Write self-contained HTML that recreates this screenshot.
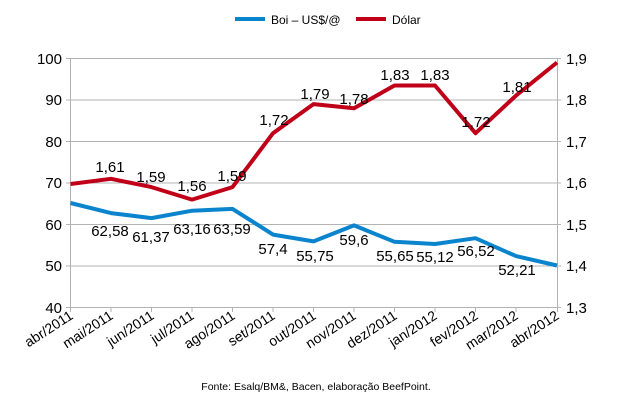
<!DOCTYPE html>
<html><head><meta charset="utf-8"><style>
html,body{margin:0;padding:0;background:#fff}
svg{display:block;font-family:"Liberation Sans",Arial,sans-serif}
</style></head><body>
<svg width="632" height="403" viewBox="0 0 632 403">
<g stroke="#b3b3b3" stroke-width="1">
<line x1="70" y1="58.5" x2="557" y2="58.5"/>
<line x1="70" y1="100" x2="557" y2="100"/>
<line x1="70" y1="141.5" x2="557" y2="141.5"/>
<line x1="70" y1="183" x2="557" y2="183"/>
<line x1="70" y1="224.5" x2="557" y2="224.5"/>
<line x1="70" y1="266" x2="557" y2="266"/>
<line x1="70" y1="307.5" x2="557" y2="307.5"/>
<line x1="70.5" y1="58" x2="70.5" y2="307"/>
<line x1="557.5" y1="58" x2="557.5" y2="307"/>
<line x1="66" y1="58.5" x2="70" y2="58.5"/><line x1="66" y1="100" x2="70" y2="100"/><line x1="66" y1="141.5" x2="70" y2="141.5"/><line x1="66" y1="183" x2="70" y2="183"/><line x1="66" y1="224.5" x2="70" y2="224.5"/><line x1="66" y1="266" x2="70" y2="266"/><line x1="66" y1="307.5" x2="70" y2="307.5"/>
<line x1="557" y1="58.5" x2="561" y2="58.5"/><line x1="557" y1="100" x2="561" y2="100"/><line x1="557" y1="141.5" x2="561" y2="141.5"/><line x1="557" y1="183" x2="561" y2="183"/><line x1="557" y1="224.5" x2="561" y2="224.5"/><line x1="557" y1="266" x2="561" y2="266"/><line x1="557" y1="307.5" x2="561" y2="307.5"/>
<line x1="70.5" y1="307" x2="70.5" y2="312"/><line x1="111" y1="307" x2="111" y2="312"/><line x1="151.5" y1="307" x2="151.5" y2="312"/><line x1="192" y1="307" x2="192" y2="312"/><line x1="232.5" y1="307" x2="232.5" y2="312"/><line x1="273" y1="307" x2="273" y2="312"/><line x1="313.5" y1="307" x2="313.5" y2="312"/><line x1="354" y1="307" x2="354" y2="312"/><line x1="394.5" y1="307" x2="394.5" y2="312"/><line x1="435" y1="307" x2="435" y2="312"/><line x1="475.5" y1="307" x2="475.5" y2="312"/><line x1="516" y1="307" x2="516" y2="312"/><line x1="557.5" y1="307" x2="557.5" y2="312"/>
</g>
<g font-size="15" fill="#000" text-anchor="end">
<text x="62" y="64">100</text><text x="62" y="105">90</text><text x="62" y="147">80</text><text x="62" y="188">70</text><text x="62" y="230">60</text><text x="62" y="271">50</text><text x="62" y="313">40</text>
</g>
<g font-size="15" fill="#000">
<text x="566" y="64">1,9</text><text x="566" y="105">1,8</text><text x="566" y="147">1,7</text><text x="566" y="188">1,6</text><text x="566" y="230">1,5</text><text x="566" y="271">1,4</text><text x="566" y="313">1,3</text>
</g>
<g font-size="14" fill="#000" text-anchor="end">
<text transform="translate(74,318) rotate(-33)">abr/2011</text>
<text transform="translate(114,318) rotate(-33)">mai/2011</text>
<text transform="translate(155,318) rotate(-33)">jun/2011</text>
<text transform="translate(195,318) rotate(-33)">jul/2011</text>
<text transform="translate(236,318) rotate(-33)">ago/2011</text>
<text transform="translate(276,318) rotate(-33)">set/2011</text>
<text transform="translate(317,318) rotate(-33)">out/2011</text>
<text transform="translate(357,318) rotate(-33)">nov/2011</text>
<text transform="translate(398,318) rotate(-33)">dez/2011</text>
<text transform="translate(438,318) rotate(-33)">jan/2012</text>
<text transform="translate(479,318) rotate(-33)">fev/2012</text>
<text transform="translate(519,318) rotate(-33)">mar/2012</text>
<text transform="translate(560,318) rotate(-33)">abr/2012</text>
</g>
<polyline fill="none" stroke="#0a84cc" stroke-width="4" stroke-linejoin="round" points="70.5,203 111,213.1 151.5,218.1 192,210.7 232.5,208.9 273,234.6 313.5,241.4 354,225.4 394.5,241.8 435,244 475.5,238.2 516,256.1 557,265.5"/>
<polyline fill="none" stroke="#c00018" stroke-width="4" stroke-linejoin="round" points="70.5,184 111,178.8 151.5,187.1 192,199.6 232.5,187.1 273,133.2 313.5,104.1 354,108.3 394.5,85.5 435,85.5 475.5,133.2 516,95.6 557,62.5"/>
<g font-size="15" fill="#000" text-anchor="middle">
<text x="110" y="236">62,58</text><text x="151" y="242">61,37</text><text x="192" y="234">63,16</text><text x="232" y="234">63,59</text><text x="273" y="254">57,4</text><text x="315" y="261">55,75</text><text x="354" y="245">59,6</text><text x="395" y="261">55,65</text><text x="435" y="262">55,12</text><text x="476" y="256">56,52</text><text x="517" y="275">52,21</text>
<text x="110" y="172">1,61</text><text x="151" y="182">1,59</text><text x="192" y="191">1,56</text><text x="232" y="181">1,59</text><text x="274" y="125">1,72</text><text x="315" y="99">1,79</text><text x="354" y="104">1,78</text><text x="395" y="80">1,83</text><text x="435" y="80">1,83</text><text x="476" y="127">1,72</text><text x="517" y="92">1,81</text>
</g>
<line x1="235" y1="19" x2="265" y2="19" stroke="#0a84cc" stroke-width="4"/>
<text x="271" y="24" font-size="12">Boi – US$/@</text>
<line x1="356" y1="19" x2="386" y2="19" stroke="#c00018" stroke-width="4"/>
<text x="392" y="24" font-size="12">Dólar</text>
<text x="316" y="390" font-size="10.5" text-anchor="middle">Fonte: Esalq/BM&amp;, Bacen, elaboração BeefPoint.</text>
</svg>
</body></html>
